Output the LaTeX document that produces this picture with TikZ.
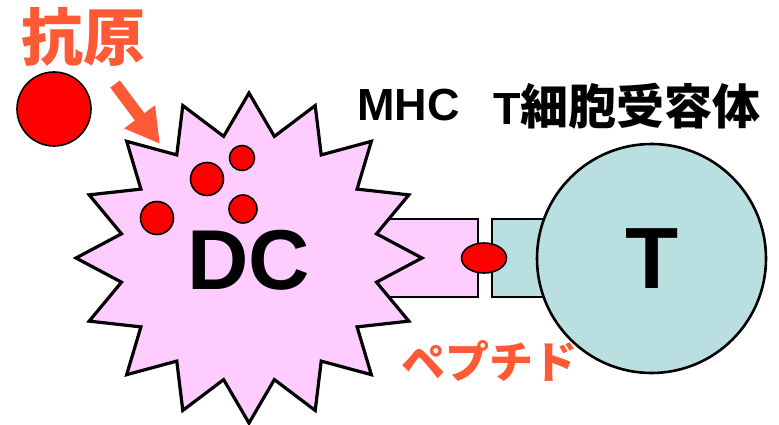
\documentclass[tikz,border=0pt]{standalone}
\usepackage{fontspec}
\setmainfont{Liberation Sans}
\newfontfamily\jp{Noto Sans CJK JP}
\usetikzlibrary{arrows.meta,shapes.geometric}
\definecolor{dcpink}{HTML}{FFCCFF}
\definecolor{tcyan}{HTML}{B9DFE1}
\definecolor{labelred}{HTML}{FF5A36}
\definecolor{agred}{HTML}{FF0000}
\newcommand{\fsz}[1]{\fontsize{#1}{#1}\selectfont}

\begin{document}
\begin{tikzpicture}[x=1pt,y=-1pt,
  dccell/.style={draw=black,fill=dcpink,line width=3.2pt,line join=miter},
  mhcbox/.style={rectangle,draw=black,fill=dcpink,line width=2.6pt,inner sep=0pt,
    minimum width=118pt,minimum height=78pt},
  tcrbox/.style={rectangle,draw=black,fill=tcyan,line width=2.6pt,inner sep=0pt,
    minimum width=70pt,minimum height=78pt},
  tcell/.style={circle,draw=black,fill=tcyan,line width=2.6pt,inner sep=0pt,minimum size=229pt},
  peptide/.style={ellipse,draw=black,fill=agred,line width=1.6pt,inner sep=0pt,
    minimum width=45pt,minimum height=30pt},
  antigen/.style={circle,draw=black,fill=agred,line width=1.6pt,inner sep=0pt},
  celllabel/.style={inner sep=0pt,font=\bfseries\fsz{85}},
  blacklabel/.style={inner sep=0pt,font=\bfseries\fsz{45}},
  redlabel/.style={inner sep=0pt,text=labelred},
  uptake/.style={draw=labelred,line width=12pt,-{Triangle[length=34pt,width=36pt]}}
]
\useasboundingbox (0,0) rectangle (779,425);

% receptor bodies sit behind the two cells
\node[mhcbox] (mhc) at (419,258) {};
\node[tcrbox] (tcr) at (527,258) {};

% dendritic cell: sixteen-pointed star outline
\coordinate (dc) at (249,258);
\begin{scope}[shift={(dc)}]
  \draw[dccell] plot[samples at={0,1,...,31}, variable=\k]
    ({cos(\k*11.25)*(mod(\k,2)==0 ? 173 : 130)},
     {sin(\k*11.25)*(mod(\k,2)==0 ? 165 : 124)}) -- cycle;
\end{scope}
\node[celllabel] (dclabel) at (249,260) {DC};

% T cell
\node[tcell] (t) at (651.5,258.5) {};
\node[celllabel,font=\bfseries\fsz{87}] (tlabel) at (652,259) {T};

% peptide held between MHC and TCR
\node[peptide] (pep) at (484,258) {};

% free antigen and engulfed fragments
\node[antigen,minimum size=74pt] (ag) at (54,109) {};
\node[antigen,minimum size=33pt] (f1) at (207,179) {};
\node[antigen,minimum size=25pt] (f2) at (242,158) {};
\node[antigen,minimum size=28pt] (f3) at (243,209) {};
\node[antigen,minimum size=33pt] (f4) at (157,218) {};

% uptake arrow
\coordinate (arrowfrom) at (115,84);
\coordinate (arrowto) at (160,144);
\draw[uptake] (arrowfrom) -- (arrowto);

% labels
\node[redlabel,font=\jp\bfseries\fsz{62}] (agtext) at (83.5,36.5) {抗原};
\node[blacklabel] (mhctext) at (408.5,105) {MHC};
\node[blacklabel,anchor=west] (tcrtext) at (493,106) {T{\jp\bfseries\fsz{48}細胞受容体}};
\node[redlabel,font=\jp\bfseries\fsz{44}] (peptext) at (489,361) {ペプチド};
\end{tikzpicture}
\end{document}
